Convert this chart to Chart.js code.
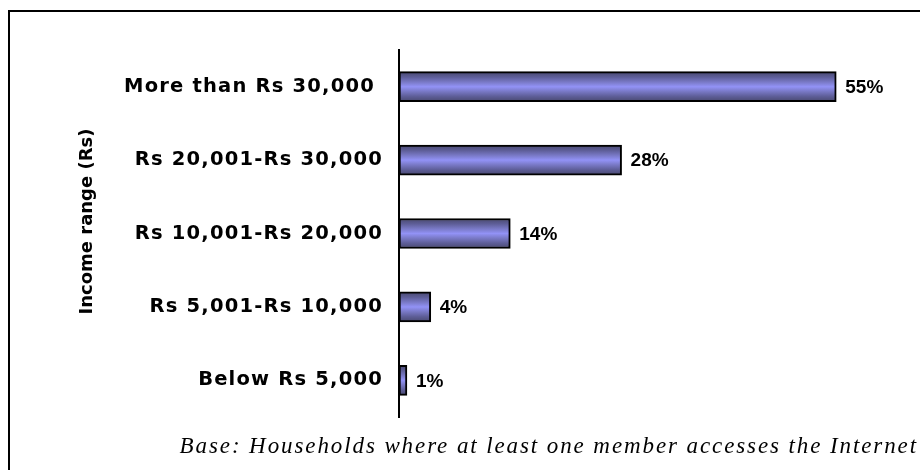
<!DOCTYPE html>
<html>
   <head>
      <meta charset="UTF-8">
      <title>Internet access by income</title>
      <script src="https://cdn.jsdelivr.net/npm/chart.js@4.4.1/dist/chart.umd.min.js"></script>
      <style>
         body{margin:0;background:#fff;}
         #box{width:920px;height:470px;}
      </style>
   </head>
   <body>
      <div id="box"><canvas id="chart" width="920" height="470"></canvas></div>
      <script>
         const categories=[
            "More than Rs 30,000 ",
            "Rs 20,001-Rs 30,000",
            "Rs 10,001-Rs 20,000",
            "Rs 5,001-Rs 10,000",
            "Below Rs 5,000"
         ];
         const shares=[55,28,14,4,1];
         const axisTitle="Income range (Rs)";
         const footnote="Base: Households where at least one member accesses the Internet";

         const wideFont="'DejaVu Sans', Verdana, sans-serif";
         const labelFont="'Liberation Sans', Arial, sans-serif";

         // banded blue fill, like the old 3d-ish office bars
         function barFill(ctx){
            const chart=ctx.chart;
            const y=chart.scales.y;
            if(!y||ctx.dataIndex==null) return "#8080e0";
            const c=y.getPixelForValue(ctx.dataIndex);
            if(!isFinite(c)) return "#8080e0";
            const g=chart.ctx.createLinearGradient(0,c-15,0,c+15);
            g.addColorStop(0,"#48486e");
            g.addColorStop(0.18,"#5e5e98");
            g.addColorStop(0.35,"#7a7ac8");
            g.addColorStop(0.5,"#9292f6");
            g.addColorStop(0.65,"#7a7ac8");
            g.addColorStop(0.82,"#5e5e98");
            g.addColorStop(1,"#48486e");
            return g;
         }

         const extras={
            id:"extras",
            beforeDraw(chart){
               // category labels in the original are stretched wide
               chart.ctx.letterSpacing="1.2px";
            },
            beforeDatasetsDraw(chart){
               chart.ctx.letterSpacing="0px";
            },
            afterDatasetsDraw(chart){
               const c=chart.ctx;
               const meta=chart.getDatasetMeta(0);
               c.save();
               c.fillStyle="#000";
               c.font="bold 19px "+labelFont;
               c.textAlign="left";
               c.textBaseline="middle";
               meta.data.forEach((bar,i)=>{
                  c.fillText(shares[i]+"%",bar.x+9,bar.y+1);
               });
               c.restore();
            },
            afterDraw(chart){
               const c=chart.ctx;
               const area=chart.chartArea;
               c.save();
               c.strokeStyle="#000";
               c.lineWidth=2;
               c.strokeRect(9,11,920,470);

               c.fillStyle="#000";
               c.font="bold 18px "+wideFont;
               c.textAlign="center";
               c.textBaseline="middle";
               c.translate(87,(area.top+area.bottom)/2-12);
               c.rotate(-Math.PI/2);
               c.fillText(axisTitle,0,0);
               c.restore();

               c.save();
               c.fillStyle="#000";
               c.letterSpacing="1.9px";
               c.font="italic 23px 'Liberation Serif', 'Times New Roman', serif";
               c.textAlign="right";
               c.textBaseline="alphabetic";
               c.fillText(footnote,918,453);
               c.restore();
            }
         };

         new Chart(document.getElementById("chart"),{
            type:"bar",
            data:{
               labels:categories,
               datasets:[{
                  data:shares,
                  backgroundColor:barFill,
                  borderColor:"#000",
                  borderWidth:2,
                  borderSkipped:false,
                  barThickness:30
               }]
            },
            options:{
               indexAxis:"y",
               responsive:false,
               animation:false,
               layout:{padding:{left:0,right:44,top:50,bottom:53}},
               plugins:{legend:{display:false},tooltip:{enabled:false}},
               scales:{
                  x:{
                     display:false,
                     min:0,
                     max:60
                  },
                  y:{
                     grid:{display:false,drawTicks:false},
                     border:{display:true,color:"#000",width:2},
                     ticks:{
                        color:"#000",
                        padding:16,
                        font:{family:wideFont,size:19.5,weight:"bold"}
                     },
                     afterFit(scale){scale.width=399;}
                  }
               }
            },
            plugins:[extras]
         });
      </script>
   </body>
</html>
